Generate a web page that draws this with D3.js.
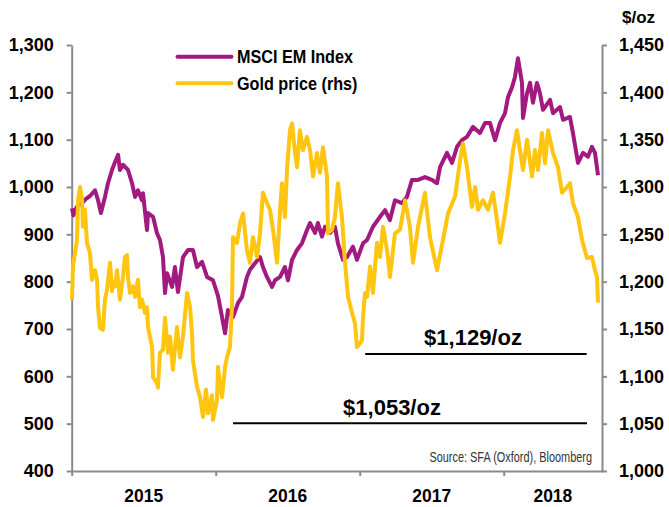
<!DOCTYPE html>
<html><head><meta charset="utf-8">
<script src="https://cdn.jsdelivr.net/npm/d3@7"></script>
<style>
html,body{margin:0;padding:0;background:#fff;}
svg{display:block;}
.tick text{font-family:"Liberation Sans",Arial,sans-serif;font-weight:bold;font-size:18px;fill:#000;}
text{font-family:"Liberation Sans",Arial,sans-serif;}
</style></head>
<body>
<script>
// ---- data (time as decimal years) ----
const msciT = [2015.002,2015.0125,2015.035,2015.072,2015.099,2015.127,2015.162,2015.183,2015.203,2015.231,2015.252,2015.280,2015.301,2015.322,2015.335,2015.356,2015.391,2015.419,2015.440,2015.460,2015.488,2015.495,2015.523,2015.530,2015.565,2015.592,2015.613,2015.634,2015.648,2015.662,2015.697,2015.717,2015.738,2015.773,2015.808,2015.842,2015.870,2015.905,2015.940,2015.981,2016.016,2016.044,2016.065,2016.085,2016.120,2016.155,2016.183,2016.217,2016.238,2016.273,2016.308,2016.328,2016.356,2016.391,2016.412,2016.447,2016.481,2016.502,2016.530,2016.565,2016.599,2016.634,2016.655,2016.690,2016.710,2016.738,2016.759,2016.794,2016.828,2016.849,2016.884,2016.912,2016.953,2016.981,2017.023,2017.051,2017.092,2017.141,2017.176,2017.210,2017.245,2017.294,2017.328,2017.363,2017.405,2017.453,2017.502,2017.537,2017.558,2017.606,2017.641,2017.676,2017.710,2017.745,2017.787,2017.835,2017.870,2017.905,2017.940,2017.974,2018.009,2018.030,2018.058,2018.078,2018.099,2018.127,2018.134,2018.162,2018.183,2018.203,2018.231,2018.252,2018.273,2018.322,2018.342,2018.391,2018.412,2018.460,2018.481,2018.516,2018.551,2018.585,2018.613,2018.634,2018.655];
const msciV = [955,940,958,966,975,981,993,972,945,979,1008,1036,1053,1068,1036,1047,1036,1008,979,993,972,987,909,945,937,903,888,852,776,818,789,831,778,852,867,867,831,842,810,803,770,725,691,740,725,755,768,810,825,839,852,831,810,789,803,810,831,803,846,867,881,909,924,903,924,895,916,903,916,881,846,852,874,846,881,888,916,937,951,930,972,966,979,1015,1015,1021,1015,1008,1042,1072,1051,1085,1099,1106,1127,1114,1135,1135,1099,1135,1156,1190,1211,1232,1272,1220,1146,1198,1220,1178,1220,1198,1163,1184,1156,1169,1142,1148,1114,1051,1072,1064,1085,1072,1025];

const goldT = [2015.002,2015.009,2015.023,2015.037,2015.044,2015.058,2015.072,2015.078,2015.092,2015.106,2015.127,2015.141,2015.162,2015.176,2015.183,2015.197,2015.217,2015.231,2015.245,2015.266,2015.280,2015.287,2015.301,2015.315,2015.335,2015.356,2015.370,2015.384,2015.391,2015.405,2015.426,2015.440,2015.460,2015.474,2015.488,2015.509,2015.523,2015.530,2015.558,2015.565,2015.592,2015.599,2015.613,2015.634,2015.648,2015.669,2015.683,2015.703,2015.731,2015.752,2015.773,2015.801,2015.822,2015.835,2015.842,2015.870,2015.891,2015.912,2015.933,2015.947,2015.974,2015.981,2016.009,2016.016,2016.030,2016.044,2016.065,2016.078,2016.099,2016.113,2016.120,2016.148,2016.169,2016.190,2016.217,2016.238,2016.259,2016.287,2016.308,2016.328,2016.356,2016.377,2016.398,2016.426,2016.447,2016.460,2016.481,2016.495,2016.516,2016.530,2016.551,2016.565,2016.585,2016.606,2016.634,2016.655,2016.676,2016.703,2016.724,2016.745,2016.773,2016.780,2016.808,2016.828,2016.849,2016.877,2016.898,2016.919,2016.947,2016.967,2016.981,2017.002,2017.016,2017.023,2017.037,2017.051,2017.072,2017.092,2017.120,2017.141,2017.162,2017.190,2017.210,2017.245,2017.280,2017.315,2017.349,2017.370,2017.405,2017.453,2017.488,2017.537,2017.578,2017.613,2017.662,2017.697,2017.717,2017.745,2017.780,2017.801,2017.822,2017.856,2017.891,2017.926,2017.953,2017.974,2018.009,2018.044,2018.065,2018.092,2018.113,2018.134,2018.162,2018.197,2018.217,2018.238,2018.266,2018.287,2018.308,2018.342,2018.377,2018.405,2018.440,2018.460,2018.481,2018.516,2018.544,2018.578,2018.613,2018.634,2018.648,2018.655];
const goldV = [1181,1216,1230,1244,1286,1300,1286,1258,1276,1241,1230,1202,1212,1202,1173,1151,1149,1181,1191,1220,1190,1200,1195,1212,1181,1205,1226,1228,1205,1188,1195,1184,1202,1173,1181,1167,1173,1152,1131,1099,1093,1088,1125,1128,1162,1125,1142,1107,1152,1120,1142,1188,1173,1146,1117,1089,1078,1057,1086,1061,1080,1054,1075,1110,1090,1078,1110,1120,1131,1173,1247,1241,1262,1272,1233,1220,1247,1226,1251,1294,1283,1276,1255,1220,1276,1304,1268,1318,1360,1367,1336,1321,1360,1339,1353,1339,1311,1336,1315,1342,1311,1251,1255,1268,1304,1268,1220,1184,1167,1156,1131,1135,1138,1163,1188,1184,1216,1188,1241,1226,1258,1233,1205,1251,1255,1286,1258,1220,1258,1294,1247,1212,1244,1272,1290,1328,1346,1321,1279,1300,1276,1286,1276,1294,1265,1241,1272,1311,1339,1360,1339,1318,1350,1311,1339,1318,1357,1325,1360,1336,1321,1294,1300,1304,1283,1268,1244,1225,1226,1212,1205,1178];

const leftTicks = [400,500,600,700,800,900,1000,1100,1200,1300];
const rightTicks = [1000,1050,1100,1150,1200,1250,1300,1350,1400,1450];
const yearTicks = [2015,2016,2017,2018];
const yearLabels = ["2015","2016","2017","2018"];
const annotations = [{value:1129, label:"$1,129/oz", from:2017.038, to:2018.576},
                     {value:1053, label:"$1,053/oz", from:2016.120, to:2018.578}];
const seriesNames = ["MSCI EM Index","Gold price (rhs)"];

// ---- layout ----
const W = 669, H = 507;
const X0 = 71.7, X1 = 602, Y0 = 471, Y1 = 45;
const tEnd = 2015 + (X1 - X0) / 144;
const purple = "#A2197F", gold = "#FFC510", axisCol = "#8a8a8a";

const svg = d3.select("body").append("svg").attr("width", W).attr("height", H);
const x = d3.scaleLinear().domain([2015, tEnd]).range([X0, X1]);
const yL = d3.scaleLinear().domain([400, 1300]).range([Y0, Y1]);
const yR = d3.scaleLinear().domain([1000, 1450]).range([Y0, Y1]);

function styleAxis(g){
  g.selectAll(".domain").attr("stroke", axisCol).attr("stroke-width", 2);
  g.selectAll(".tick line").attr("stroke", axisCol).attr("stroke-width", 2);
}
const gL = svg.append("g").attr("transform", `translate(${X0},0)`)
  .call(d3.axisLeft(yL).tickValues(leftTicks).tickFormat(d3.format(",")).tickSize(5).tickSizeOuter(0).tickPadding(13));
styleAxis(gL);
const gR = svg.append("g").attr("transform", `translate(${X1},0)`)
  .call(d3.axisRight(yR).tickValues(rightTicks).tickFormat(d3.format(",")).tickSize(5).tickSizeOuter(0).tickPadding(12));
styleAxis(gR);
const gX = svg.append("g").attr("transform", `translate(0,${Y0})`)
  .call(d3.axisBottom(x).tickValues(yearTicks).tickFormat("").tickSize(5).tickSizeOuter(0));
styleAxis(gX);

// condensed text helper (horizontal squeeze)
function narrowText(px, py, sx, anchor){
  return svg.append("text").attr("transform", `translate(${px},${py}) scale(${sx},1)`).attr("text-anchor", anchor || "start");
}

// year labels centered in each year span
yearTicks.forEach((yr, i) => {
  const a = x(yr), b = x(Math.min(yr + 1, tEnd));
  narrowText((a + b) / 2, 502, 0.92, "middle")
    .style("font-weight", "bold").style("font-size", "19px")
    .text(yearLabels[i]);
});

// unit label
svg.append("text").attr("x", 622).attr("y", 23)
  .style("font-weight", "bold").style("font-size", "17px")
  .text("$/oz");

// annotations
annotations.forEach((a, i) => {
  const yy = yR(a.value) + (i === 0 ? 5 : 2.5);
  svg.append("line").attr("x1", x(a.from)).attr("x2", x(a.to)).attr("y1", yy).attr("y2", yy)
    .attr("stroke", "#000").attr("stroke-width", 2);
});
svg.append("text").attr("x", 473).attr("y", 345).attr("text-anchor", "middle")
  .style("font-weight", "bold").style("font-size", "22px")
  .text(annotations[0].label);
svg.append("text").attr("x", 392).attr("y", 415).attr("text-anchor", "middle")
  .style("font-weight", "bold").style("font-size", "22px")
  .text(annotations[1].label);

// source
narrowText(592, 462, 0.78, "end")
  .style("font-size", "14px").style("fill", "#333")
  .text("Source: SFA (Oxford), Bloomberg");

// lines
const msci = msciT.map((t, i) => [t, msciV[i]]);
const goldD = goldT.map((t, i) => [t, goldV[i]]);
svg.append("path").datum(msci)
  .attr("d", d3.line().x(d => x(d[0])).y(d => yL(d[1])))
  .attr("fill", "none").attr("stroke", purple).attr("stroke-width", 4).attr("stroke-linejoin", "round");
svg.append("path").datum(goldD)
  .attr("d", d3.line().x(d => x(d[0])).y(d => yR(d[1])))
  .attr("fill", "none").attr("stroke", gold).attr("stroke-width", 4).attr("stroke-linejoin", "round");

// legend
const legY = [56.7, 83.3];
[purple, gold].forEach((c, i) => {
  svg.append("line").attr("x1", 177.5).attr("x2", 231.5).attr("y1", legY[i]).attr("y2", legY[i])
    .attr("stroke", c).attr("stroke-width", 4).attr("stroke-linecap", "round");
  narrowText(237, legY[i] + 6.6, 0.9)
    .style("font-weight", "bold").style("font-size", "18px")
    .text(seriesNames[i]);
});
</script>
</body></html>
